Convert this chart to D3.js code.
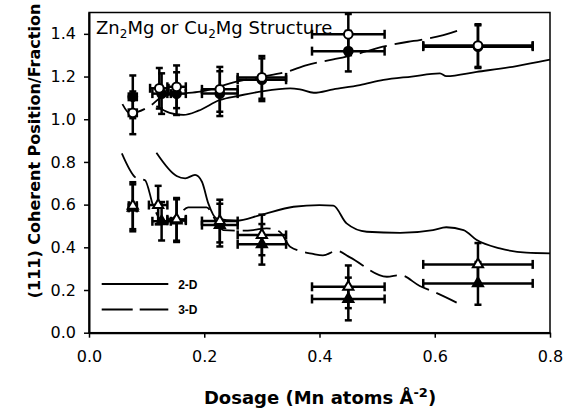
<!DOCTYPE html>
<html>
<head>
<meta charset="utf-8">
<script src="https://cdn.jsdelivr.net/npm/d3@7"></script>
<style>
  body { margin: 0; background: #fff; }
  svg { display: block; }
</style>
</head>
<body>
<div id="chart"></div>
<script>
// axis ticks
var xTicks = [0, 0.2, 0.4, 0.6, 0.8];
var yTicks = [0, 0.2, 0.4, 0.6, 0.8, 1.0, 1.2, 1.4];

// circles (upper set) : dose, position, x error, y error
var openCircX  = [0.076, 0.122, 0.152, 0.227, 0.300, 0.450, 0.675];
var openCircY  = [1.03, 1.145, 1.152, 1.14, 1.196, 1.398, 1.345];
var fillCircX  = [0.076, 0.126, 0.152, 0.227, 0.300, 0.450, 0.675];
var fillCircY  = [1.105, 1.12, 1.12, 1.12, 1.185, 1.319, 1.34];
var circXErr   = [0.007, 0.016, 0.016, 0.031, 0.042, 0.063, 0.095];
var circYErr   = [0.1, 0.095, 0.1, 0.105, 0.1, 0.095, 0.1];

// triangles (lower set)
var openTriX   = [0.076, 0.120, 0.152, 0.227, 0.300, 0.450, 0.675];
var openTriY   = [0.595, 0.598, 0.531, 0.523, 0.458, 0.215, 0.32];
var fillTriX   = [0.076, 0.126, 0.152, 0.227, 0.300, 0.450, 0.675];
var fillTriY   = [0.585, 0.522, 0.525, 0.504, 0.414, 0.158, 0.231];
var triXErr    = [0.007, 0.016, 0.016, 0.031, 0.042, 0.063, 0.095];
var triYErr    = [0.11, 0.09, 0.1, 0.1, 0.095, 0.1, 0.1];

// 2-D model curves (solid)
var upper2dX = [0.117, 0.14, 0.164, 0.19, 0.227, 0.26, 0.297, 0.349, 0.366, 0.39, 0.424, 0.47, 0.511, 0.56, 0.609, 0.62, 0.673, 0.742, 0.8];
var upper2dY = [1.062, 1.03, 1.02, 1.04, 1.09, 1.11, 1.129, 1.145, 1.14, 1.124, 1.14, 1.16, 1.184, 1.2, 1.215, 1.202, 1.222, 1.249, 1.279];
var lower2dX = [0.117, 0.152, 0.167, 0.184, 0.196, 0.207, 0.221, 0.256, 0.297, 0.355, 0.4, 0.424, 0.447, 0.482, 0.54, 0.597, 0.62, 0.65, 0.673, 0.713, 0.759, 0.8];
var lower2dY = [0.843, 0.734, 0.723, 0.739, 0.707, 0.606, 0.536, 0.525, 0.551, 0.59, 0.598, 0.595, 0.512, 0.473, 0.468, 0.481, 0.494, 0.481, 0.434, 0.395, 0.375, 0.372];

// 3-D model curves (dashed)
var upper3dX = [0.058, 0.071, 0.106, 0.13, 0.16, 0.193, 0.256, 0.297, 0.343, 0.378, 0.424, 0.459, 0.51, 0.554, 0.574, 0.615, 0.645];
var upper3dY = [1.071, 1.028, 1.062, 1.11, 1.12, 1.129, 1.176, 1.198, 1.222, 1.254, 1.28, 1.301, 1.34, 1.363, 1.371, 1.394, 1.42];
var lower3dX = [0.057, 0.083, 0.097, 0.112, 0.129, 0.158, 0.172, 0.204, 0.221, 0.233, 0.262, 0.285, 0.308, 0.331, 0.349, 0.389, 0.406, 0.43, 0.453, 0.517, 0.54, 0.574, 0.598, 0.638];
var lower3dY = [0.84, 0.723, 0.715, 0.59, 0.52, 0.559, 0.587, 0.587, 0.52, 0.481, 0.478, 0.481, 0.489, 0.473, 0.403, 0.369, 0.362, 0.384, 0.353, 0.262, 0.27, 0.219, 0.192, 0.141];

var legendNames = ['2-D', '3-D'];

var width = 573, height = 411;
var margin = {left: 89, right: 23, top: 12.5, bottom: 78.3};

var svg = d3.select('#chart').append('svg')
  .attr('width', width)
  .attr('height', height);

var x = d3.scaleLinear().domain([0, 0.8]).range([margin.left, width - margin.right]);
var y = d3.scaleLinear().domain([0, 1.5]).range([height - margin.bottom, margin.top]);

var zip = function(xs, ys) { return xs.map(function(d, i) { return [d, ys[i]]; }); };

// frame
svg.append('rect')
  .attr('x', x(0)).attr('y', y(1.5))
  .attr('width', x(0.8) - x(0)).attr('height', y(0) - y(1.5))
  .attr('fill', 'none').attr('stroke', '#000').attr('stroke-width', 1.5);

var yAxis = d3.axisLeft(y).tickValues(yTicks).tickFormat(d3.format('.1f'))
  .tickSize(5).tickSizeOuter(0).tickPadding(8);
var xAxis = d3.axisBottom(x).tickValues(xTicks).tickFormat(d3.format('.1f'))
  .tickSize(5).tickSizeOuter(0).tickPadding(13);

var gy = svg.append('g').attr('transform', 'translate(' + x(0) + ',0)').call(yAxis);
var gx = svg.append('g').attr('transform', 'translate(0,' + y(0) + ')').call(xAxis);
[gx, gy].forEach(function(g) {
  g.selectAll('path').attr('stroke-width', 2);
  g.selectAll('line').attr('stroke-width', 1.5);
  g.selectAll('text').attr('font-family', 'DejaVu Sans, Verdana, sans-serif').attr('font-size', 16).attr('fill', '#000');
});

// model curves
var line = d3.line().x(function(d) { return x(d[0]); }).y(function(d) { return y(d[1]); })
  .curve(d3.curveMonotoneX);
var curves = [
  {pts: zip(upper2dX, upper2dY), dash: null},
  {pts: zip(lower2dX, lower2dY), dash: null},
  {pts: zip(upper3dX, upper3dY), dash: '28,8'},
  {pts: zip(lower3dX, lower3dY), dash: '28,8'}
];
svg.append('g').selectAll('path')
  .data(curves)
  .enter()
  .append('path')
  .attr('d', function(d) { return line(d.pts); })
  .attr('fill', 'none')
  .attr('stroke', '#000')
  .attr('stroke-width', 1.8)
  .attr('stroke-dasharray', function(d) { return d.dash; });

// error bars
var points = [];
openCircX.forEach(function(d, i) { points.push({x: d, y: openCircY[i], ex: circXErr[i], ey: circYErr[i], shape: 'circle', filled: false}); });
fillCircX.forEach(function(d, i) { points.push({x: d, y: fillCircY[i], ex: circXErr[i], ey: circYErr[i], shape: 'circle', filled: true}); });
openTriX.forEach(function(d, i) { points.push({x: d, y: openTriY[i], ex: triXErr[i], ey: triYErr[i], shape: 'tri', filled: false}); });
fillTriX.forEach(function(d, i) { points.push({x: d, y: fillTriY[i], ex: triXErr[i], ey: triYErr[i], shape: 'tri', filled: true}); });

var bars = svg.append('g').attr('stroke', '#000').attr('stroke-width', 2.5);
points.forEach(function(p) {
  var cx = x(p.x), cy = y(p.y);
  var x0 = x(p.x - p.ex), x1 = x(p.x + p.ex);
  var y0 = y(p.y - p.ey), y1 = y(p.y + p.ey);
  bars.append('line').attr('x1', cx).attr('x2', cx).attr('y1', y0).attr('y2', y1);
  bars.append('line').attr('x1', cx - 3.5).attr('x2', cx + 3.5).attr('y1', y0).attr('y2', y0);
  bars.append('line').attr('x1', cx - 3.5).attr('x2', cx + 3.5).attr('y1', y1).attr('y2', y1);
  bars.append('line').attr('x1', x0).attr('x2', x1).attr('y1', cy).attr('y2', cy);
  bars.append('line').attr('x1', x0).attr('x2', x0).attr('y1', cy - 4.5).attr('y2', cy + 4.5);
  bars.append('line').attr('x1', x1).attr('x2', x1).attr('y1', cy - 4.5).attr('y2', cy + 4.5);
});

// markers: filled first, open ones on top
var sym = {circle: d3.symbol().type(d3.symbolCircle).size(60), tri: d3.symbol().type(d3.symbolTriangle).size(45)};
var ordered = points.filter(function(p) { return p.filled; }).concat(points.filter(function(p) { return !p.filled; }));
svg.append('g').selectAll('path')
  .data(ordered)
  .enter()
  .append('path')
  .attr('d', function(d) { return sym[d.shape](); })
  .attr('transform', function(d) { return 'translate(' + x(d.x) + ',' + y(d.y) + ')'; })
  .attr('fill', function(d) { return d.filled ? '#000' : '#fff'; })
  .attr('stroke', '#000')
  .attr('stroke-width', 2);

// legend
var legend = svg.append('g').selectAll('g')
  .data(legendNames)
  .enter()
  .append('g')
  .attr('transform', function(d, i) { return 'translate(101.7,' + (284 + i * 25.5) + ')'; });
legend.append('line')
  .attr('x1', 0).attr('x2', 66.6).attr('y1', 0).attr('y2', 0)
  .attr('stroke', '#000').attr('stroke-width', 1.8)
  .attr('stroke-dasharray', function(d, i) { return i == 1 ? '31,7' : null; });
legend.append('text')
  .attr('x', 76.5).attr('y', 4.5)
  .attr('font-family', 'Liberation Sans, Arial, sans-serif')
  .attr('font-weight', 'bold').attr('font-size', 12)
  .text(function(d) { return d; });

// structure label
var note = svg.append('text')
  .attr('x', 96).attr('y', 34)
  .attr('font-family', 'DejaVu Sans, Verdana, sans-serif')
  .attr('font-size', 18);
note.append('tspan').text('Zn');
note.append('tspan').attr('font-size', 12).attr('dy', 4).text('2');
note.append('tspan').attr('dy', -4).text('Mg or Cu');
note.append('tspan').attr('font-size', 12).attr('dy', 4).text('2');
note.append('tspan').attr('dy', -4).text('Mg Structure');

// axis titles
svg.append('text')
  .attr('transform', 'translate(40,151) rotate(-90)')
  .attr('text-anchor', 'middle')
  .attr('font-family', 'DejaVu Sans, Verdana, sans-serif')
  .attr('font-weight', 'bold').attr('font-size', 16)
  .text('(111) Coherent Position/Fraction');

var xt = svg.append('text')
  .attr('x', 320).attr('y', 404)
  .attr('text-anchor', 'middle')
  .attr('font-family', 'DejaVu Sans, Verdana, sans-serif')
  .attr('font-weight', 'bold').attr('font-size', 18);
xt.append('tspan').text('Dosage (Mn atoms \u00c5');
xt.append('tspan').attr('font-size', 13).attr('dy', -7).text('-2');
xt.append('tspan').attr('dy', 7).text(')');
</script>
</body>
</html>
